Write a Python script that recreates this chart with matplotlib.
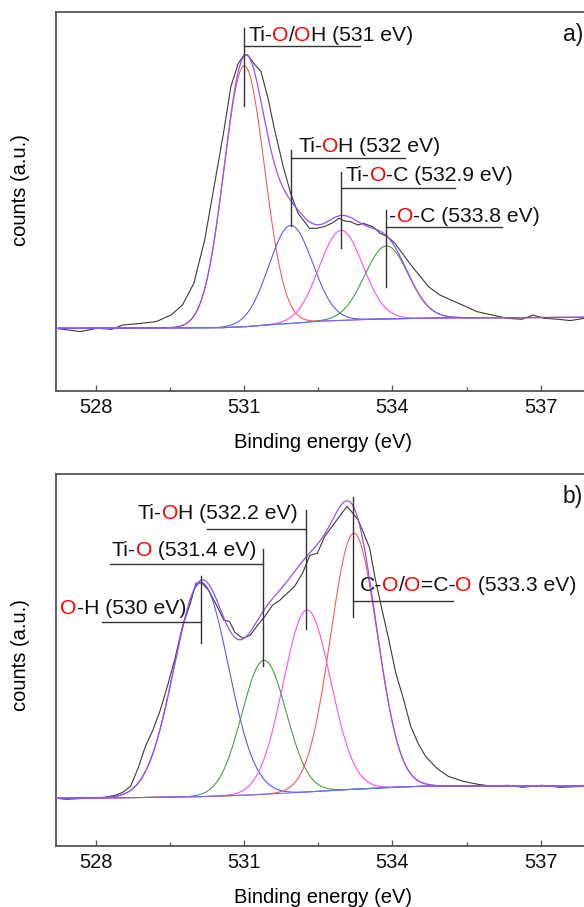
import re
import numpy as np
import matplotlib
matplotlib.use("Agg")
import matplotlib.pyplot as plt

INK = "#3a3a3a"; SPINE = "#555555"
plt.rcParams.update({"font.family": ["Liberation Sans", "DejaVu Sans"], "font.size": 14.5,
                     "axes.edgecolor": SPINE, "axes.linewidth": 1.3,
                     "xtick.color": SPINE, "xtick.labelcolor": "#111111", "text.color": "#111111"})
FS = 14.5
FS_LAB = 15.2

# ---------- data (heights in a.u. above the left baseline) ----------
# panel a: measured spectrum
a_ev = [527.18, 527.68, 528.02, 528.32, 528.54, 528.92, 529.22, 529.52, 529.75, 529.98,
        530.20, 530.39, 530.58, 530.73, 530.88, 531.00, 531.07, 531.22, 531.34, 531.49,
        531.60, 531.79, 531.94, 532.09, 532.32, 532.47, 532.62, 532.77, 532.92, 533.03,
        533.15, 533.30, 533.41, 533.60, 533.75, 533.90, 534.05, 534.20, 534.35, 534.51,
        534.73, 534.96, 535.26, 535.49, 535.71, 536.02, 536.32, 536.62, 536.85, 537.07,
        537.37, 537.60, 537.89]
a_counts = [0, -3.3, 0, -1, 3.3, 5, 6.7, 13.3, 23.3, 45,
            88.3, 141.7, 195, 241.7, 265, 273.3, 273.3, 263.3, 256.7, 228.3,
            201.7, 161.7, 135, 115, 100, 100, 101.7, 105, 110, 107.3,
            106.7, 103.3, 105, 101.7, 95, 91.7, 85, 75, 65, 55,
            41.7, 33.3, 26.7, 21.7, 16.7, 13.3, 10, 9, 13.3, 10,
            9, 7.7, 10]
# panel a: background and fitted components
a_bg_ev = [527.2, 530.5, 531.0, 531.5, 532.0, 532.5, 533.0, 533.5, 534.0, 535.0, 538.5]
a_bg = [0, 0.5, 1.5, 3.5, 5, 7, 8, 9, 9.5, 10.5, 11]
a_center = [531.0, 531.94, 532.96, 533.88]
a_height = [261, 98, 90, 73]
a_sigma = [0.41, 0.44, 0.44, 0.44]
a_colors = ["#ff5050", "#4f4fff", "#ff40ff", "#3a9a3a"]

# panel b: measured spectrum
b_ev = [527.18, 527.41, 527.79, 528.17, 528.39, 528.54, 528.70, 528.85, 529.00, 529.15,
        529.30, 529.45, 529.60, 529.75, 529.91, 530.02, 530.13, 530.28, 530.44, 530.59,
        530.70, 530.81, 530.97, 531.12, 531.27, 531.42, 531.57, 531.72, 531.87, 532.02,
        532.18, 532.33, 532.48, 532.63, 532.78, 532.93, 533.08, 533.20, 533.31, 533.42,
        533.54, 533.65, 533.76, 533.92, 534.07, 534.22, 534.37, 534.52, 534.67, 534.90,
        535.13, 535.43, 535.73, 536.03, 536.34, 536.64, 537.02, 537.39, 537.90]
b_counts = [0, -1, 0, 1, 3, 6, 12, 30, 52, 68,
            88, 113, 140, 172, 195, 215, 216, 208, 193, 178,
            177, 166, 160, 163, 173, 182, 193, 198, 205, 212,
            225, 243, 245, 262, 272, 282, 292, 285, 278, 265,
            250, 220, 195, 160, 125, 100, 72, 55, 42, 30,
            22, 17, 14, 12, 13, 11, 13, 11, 12]
b_bg_ev = [527.2, 528.5, 530.0, 531.0, 532.0, 533.0, 534.0, 534.7, 538.5]
b_bg = [0, 0.5, 1.5, 3, 5.5, 8.5, 11, 12.3, 12.3]
b_center = [530.13, 531.40, 532.27, 533.22]
b_height = [214, 134, 182, 256]
b_sigma = [0.55, 0.45, 0.48, 0.47]
b_colors = ["#4f4fff", "#3a9a3a", "#ff40ff", "#ff5050"]

# peak labels: text, text x, text y, (vline x, y0, y1), (hline y, x0, x1)
a_labels = [("Ti-O/OH (531 eV)", 531.08, 293, (531.0, 300, 222), (282, 531.0, 533.34)),
            ("Ti-OH (532 eV)", 532.09, 182, (531.94, 178, 102), (170, 531.94, 534.26)),
            ("Ti-O-C (532.9 eV)", 533.06, 153, (532.96, 156, 80), (140.5, 532.96, 535.27)),
            ("-O-C (533.8 eV)", 533.94, 112, (533.88, 118, 41), (101, 533.88, 536.22))]
b_labels = [("O-H (530 eV)", 527.28, 190, (530.12, 222, 155), (176.5, 528.13, 530.12)),
            ("Ti-O (531.4 eV)", 528.32, 248, (531.39, 249, 132), (234, 528.28, 531.39)),
            ("Ti-OH (532.2 eV)", 528.84, 285, (532.25, 288, 169), (269.5, 530.25, 532.25)),
            ("C-O/O=C-O (533.3 eV)", 533.34, 213, (533.21, 301, 181), (197.5, 533.21, 535.22))]

XMIN, XMAX = 527.19, 538.5
grid = np.linspace(XMIN, XMAX, 1200)


def rich_text(ax, x, y, s):
    parts = [p for p in re.split("(O)", s) if p]
    t = None
    for p in parts:
        c = "#ff0000" if p == "O" else "#111111"
        if t is None:
            t = ax.text(x, y, p, color=c, va="center", ha="left", fontsize=FS_LAB)
        else:
            t = ax.annotate(p, xy=(1, 0), xycoords=t, va="bottom", ha="left", color=c, fontsize=FS_LAB)


def panel(ax, ev, counts, bg_ev, bg, centers, heights, sigmas, colors, labels, ylim, tag, tag_y, ylab_y):
    base = np.interp(grid, bg_ev, bg)
    ax.plot(ev, counts, color=INK, lw=0.8, zorder=2)
    total = base.copy()
    for c, h, s, col in zip(centers, heights, sigmas, colors):
        g = h * np.exp(-(grid - c) ** 2 / (2 * s ** 2))
        total += g
        ax.plot(grid, base + g, color=col, lw=0.75, zorder=3)
    ax.plot(grid, base, color="#6a6aff", lw=0.8, zorder=3)
    ax.plot(grid, total, color="#9a4dff", lw=0.9, zorder=4)
    for text, tx, ty, (vx, vy0, vy1), (hy, hx0, hx1) in labels:
        ax.plot([vx, vx], [vy0, vy1], color="#333333", lw=1.0, zorder=5)
        ax.plot([hx0, hx1], [hy, hy], color="#333333", lw=1.0, zorder=5)
        rich_text(ax, tx, ty, text)
    ax.text(537.45, tag_y, tag, fontsize=16.5, va="center", ha="left")
    ax.set_xlim(XMIN, XMAX)
    ax.set_ylim(*ylim)
    ax.set_xticks([528, 531, 534, 537])
    ax.set_xticks([529.5, 532.5, 535.5], minor=True)
    ax.set_yticks([])
    ax.tick_params(axis="x", which="major", direction="in", length=4.3, width=0.9, pad=5, labelsize=FS)
    ax.tick_params(axis="x", which="minor", direction="in", length=2.6, width=0.9)
    ax.set_xlabel("Binding energy (eV)", fontsize=FS)
    ax.set_ylabel("counts (a.u.)", fontsize=FS)
    ax.xaxis.set_label_coords(0.478, -0.112)
    ax.yaxis.set_label_coords(-0.047, ylab_y)


fig = plt.figure(figsize=(5.84, 9.07), dpi=100)
W = (XMAX - XMIN) * 49.4 / 584
ax_a = fig.add_axes([56 / 584, 1 - 391 / 907, W, 379 / 907])
ax_b = fig.add_axes([56 / 584, 1 - 846 / 907, W, 372 / 907])

panel(ax_a, a_ev, a_counts, a_bg_ev, a_bg, a_center, a_height, a_sigma, a_colors, a_labels,
      (-62.7, 316.3), "a)", 294, 0.53)
panel(ax_b, b_ev, b_counts, b_bg_ev, b_bg, b_center, b_height, b_sigma, b_colors, b_labels,
      (-47.7, 324.3), "b)", 302, 0.513)

fig.savefig("out.png", dpi=100)
